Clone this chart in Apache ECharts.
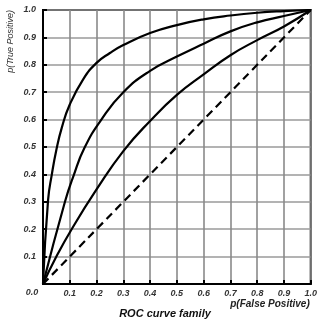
<!DOCTYPE html>
<html><head><meta charset="utf-8">
<script src="https://cdn.jsdelivr.net/npm/echarts@6/dist/echarts.min.js"></script>
<style>html,body{margin:0;padding:0;background:#fff}#c{width:320px;height:322px}</style>
</head><body><div id="c"></div>
<script>
const xTicks = [0,0.1,0.2,0.3,0.4,0.5,0.6,0.7,0.8,0.9,1.0];
const curve1X = [0,0.019,0.033,0.05,0.07,0.1,0.15,0.2,0.25,0.3,0.4,0.5,0.6,0.7,0.8,0.9,1.0];
const curve1Y = [0,0.307,0.4,0.49,0.57,0.655,0.747,0.807,0.843,0.872,0.916,0.945,0.966,0.98,0.99,0.996,1.0];
const curve2X = [0,0.082,0.114,0.155,0.218,0.3,0.4,0.5,0.6,0.7,0.8,0.9,1.0];
const curve2Y = [0,0.3,0.395,0.497,0.6,0.7,0.778,0.83,0.877,0.922,0.955,0.978,1.0];
const curve3X = [0,0.05,0.107,0.2,0.3,0.4,0.5,0.6,0.7,0.8,0.9,1.0];
const curve3Y = [0,0.1,0.2,0.345,0.485,0.595,0.69,0.765,0.835,0.89,0.94,1.0];
const diagX = [0,1];
const diagY = [0,1];

const FONT = '"Liberation Sans", Arial, sans-serif';
const pair = (xs, ys) => xs.map((x, i) => [x, ys[i]]);
const chart = echarts.init(document.getElementById('c'));
const lineS = (data, type) => ({
  type: 'line', data, smooth: 0.5, symbol: 'none', silent: true,
  lineStyle: { color: '#000', width: 2.2, type: type || 'solid' }
});
chart.setOption({
  animation: false,
  grid: { left: 43, top: 10, right: 8, bottom: 38, show: true, borderColor: '#000', borderWidth: 2 },
  xAxis: {
    type: 'value', min: 0, max: 1, interval: 0.1,
    axisLine: { lineStyle: { color: '#000', width: 2 } },
    axisTick: { show: true, inside: true, length: 4, lineStyle: { color: '#000', width: 2 } },
    splitLine: { show: true, lineStyle: { color: '#8a8a8a', width: 1.6 } },
    axisLabel: { margin: 5, color: '#333', fontFamily: FONT, fontSize: 9, fontWeight: 'bold', fontStyle: 'italic',
      formatter: v => v === 0 ? '' : v.toFixed(1) }
  },
  yAxis: {
    type: 'value', min: 0, max: 1, interval: 0.1,
    axisLine: { lineStyle: { color: '#000', width: 2 } },
    axisTick: { show: true, inside: true, length: 4, lineStyle: { color: '#000', width: 2 } },
    splitLine: { show: true, lineStyle: { color: '#9a9a9a', width: 1.6 } },
    axisLabel: { margin: 7, color: '#333', fontFamily: FONT, fontSize: 9, fontWeight: 'bold', fontStyle: 'italic',
      formatter: v => v === 0 ? '' : v.toFixed(1) }
  },
  graphic: [
    { type: 'text', x: 32, y: 293, style: { text: '0.0', fill: '#333', font: 'italic bold 9px ' + FONT, textAlign: 'center', textVerticalAlign: 'middle' } },
    { type: 'text', x: 270, y: 304, style: { text: 'p(False Positive)', fill: '#222', font: 'italic bold 10px ' + FONT, textAlign: 'center', textVerticalAlign: 'middle' } },
    { type: 'text', x: 165, y: 314, style: { text: 'ROC curve family', fill: '#111', font: 'italic bold 11px ' + FONT, textAlign: 'center', textVerticalAlign: 'middle' } },
    { type: 'text', x: 10, y: 10, rotation: Math.PI / 2, style: { text: 'p(True Positive)', fill: '#333', font: 'italic 9px ' + FONT, textAlign: 'right', textVerticalAlign: 'middle' } }
  ],
  series: [
    lineS(pair(curve1X, curve1Y)),
    lineS(pair(curve2X, curve2Y)),
    lineS(pair(curve3X, curve3Y)),
    lineS(pair(diagX, diagY), [8, 5])
  ]
});
</script></body></html>
